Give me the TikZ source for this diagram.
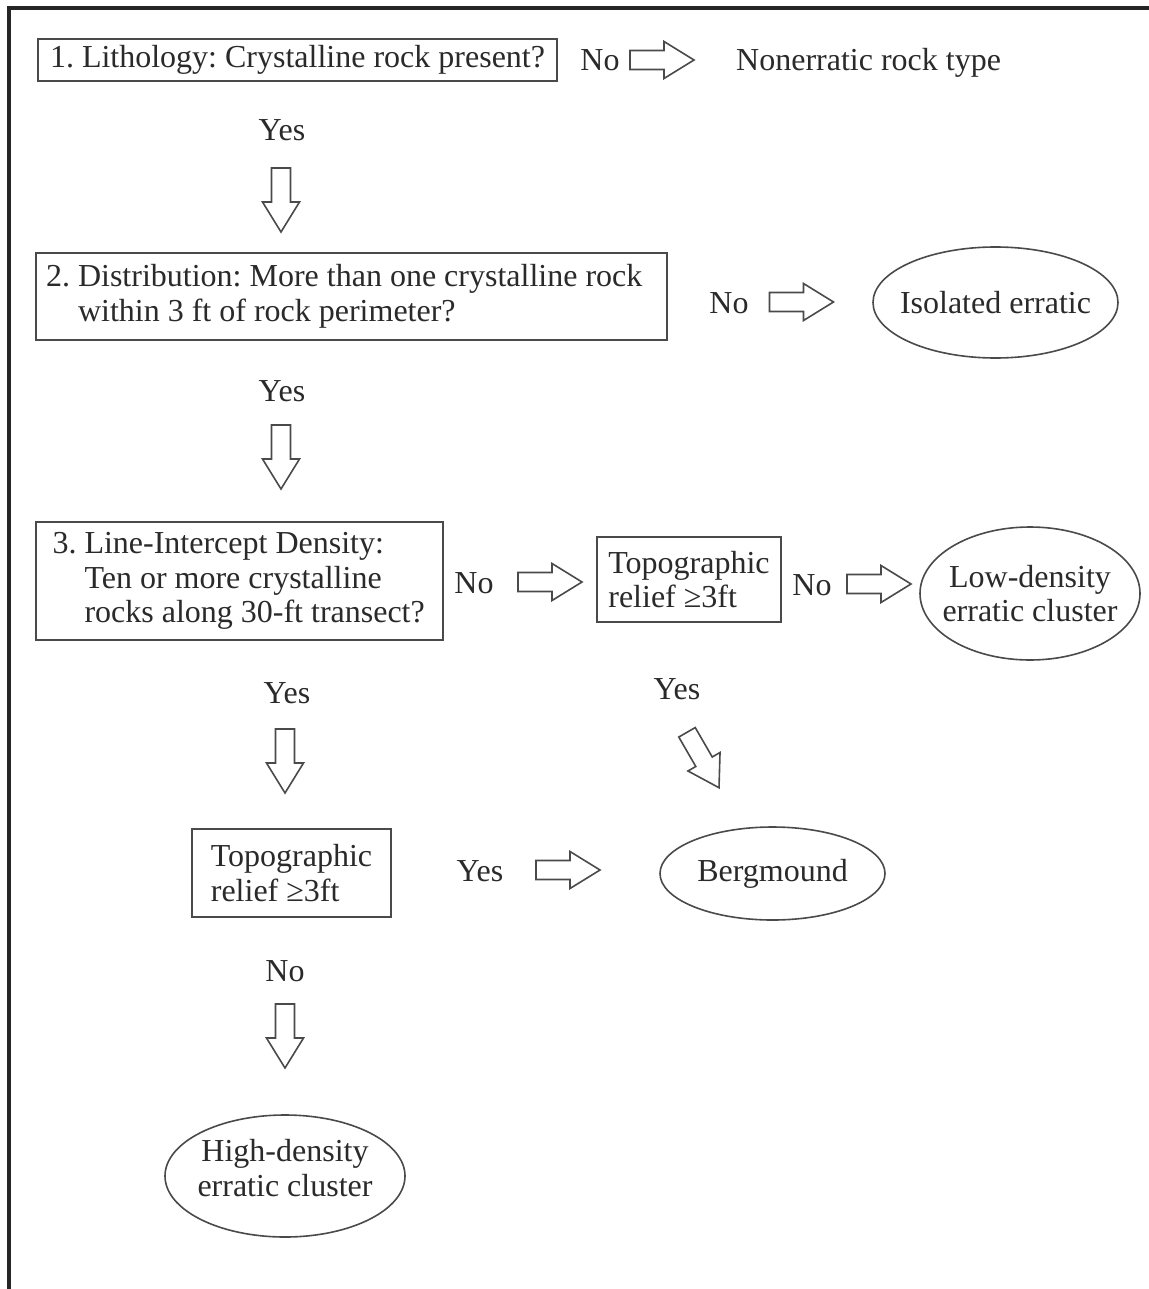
\documentclass[tikz,border=0pt]{standalone}
\usepackage{fontspec}
\setmainfont{Liberation Serif}
\definecolor{ink}{HTML}{2A2A2A}
\definecolor{edge}{HTML}{4A4A4A}
\tikzset{
  box/.style={draw=edge, line width=1.8pt, inner sep=0pt, text=ink},
  ovaltext/.style={inner sep=0pt, align=center, text=ink},
  ovalline/.style={draw=edge, line width=1.6pt},
  lbl/.style={anchor=base, inner sep=0pt, text=ink},
  barrow/.pic={\draw[edge, line width=1.6pt, fill=white, line join=miter]
     (-32,-9.5) -- (2,-9.5) -- (2,-18.5) -- (32,0) -- (2,18.5) -- (2,9.5) -- (-32,9.5) -- cycle;}
}
\begin{document}
\frenchspacing
\begin{tikzpicture}[x=1pt,y=-1pt,font=\fontsize{32}{34.5}\selectfont\frenchspacing]
\useasboundingbox (0,0) rectangle (1148,1289);
\fill[white] (0,0) rectangle (1148,1289);
% frame
\draw[line width=3.5pt, black!85] (9,1300) -- (9,8) -- (1160,8);

% row 1
\node[box, minimum width=519pt, minimum height=42pt] (q1) at (297.5,60) {1. Lithology: Crystalline rock present?};
\node[lbl] (no1) at (600,71) {No};
\pic at (662,60) {barrow};
\node[lbl, anchor=base west] (nonerr) at (736,71) {Nonerratic rock type};
\node[lbl] (yes1) at (282,141) {Yes};
\pic[rotate=-90] at (281,200) {barrow};

% row 2
\node[box, minimum width=631pt, minimum height=87pt, text width=611pt, align=flush left] (q2) at (351.5,296.5)
  {2. Distribution: More than one crystalline rock\\\phantom{2.\ }within 3 ft of rock perimeter?};
\node[lbl] (no2) at (729,313) {No};
\pic at (801.5,302) {barrow};
\node[ovaltext] (iso) at (995.5,302.5) {Isolated erratic};
\draw[ovalline] (iso.center) ellipse [x radius=122.5, y radius=55.5];
\node[lbl] (yes2) at (282,401) {Yes};
\pic[rotate=-90] at (281,457) {barrow};

% row 3
\node[box, minimum width=407pt, minimum height=118pt, text width=374pt, align=flush left] (q3) at (239.5,581)
  {3. Line-Intercept Density:\\\phantom{3.\ }Ten or more crystalline\\\phantom{3.\ }rocks along 30-ft transect?};
\node[lbl] (no3) at (474,593) {No};
\pic at (550,582) {barrow};
\node[box, minimum width=184pt, minimum height=85pt, align=left] (topo1) at (689,579.5) {Topographic\\relief ≥3ft};
\node[lbl] (no4) at (812,595) {No};
\pic at (879,584) {barrow};
\node[ovaltext] (low) at (1030,593.5) {Low-density\\erratic cluster};
\draw[ovalline] (low.center) ellipse [x radius=110, y radius=66.5];

\node[lbl] (yes3) at (287,703) {Yes};
\pic[rotate=-90] at (285,761) {barrow};
\node[lbl] (yes4) at (677,699) {Yes};
\pic[rotate=-60] at (703,760) {barrow};

% row 4
\node[box, minimum width=199pt, minimum height=88pt, align=left] (topo2) at (291.5,873) {Topographic\\relief ≥3ft};
\node[lbl] (yes5) at (480,881) {Yes};
\pic at (568,870) {barrow};
\node[ovaltext] (berg) at (772.5,873.5) {Bergmound};
\draw[ovalline] (berg.center) ellipse [x radius=112.5, y radius=46.5];

\node[lbl] (no5) at (285,981) {No};
\pic[rotate=-90] at (285,1036) {barrow};
\node[ovaltext] (high) at (285,1168) {High-density\\erratic cluster};
\draw[ovalline] (285,1176) ellipse [x radius=120, y radius=61];
\end{tikzpicture}
\end{document}
